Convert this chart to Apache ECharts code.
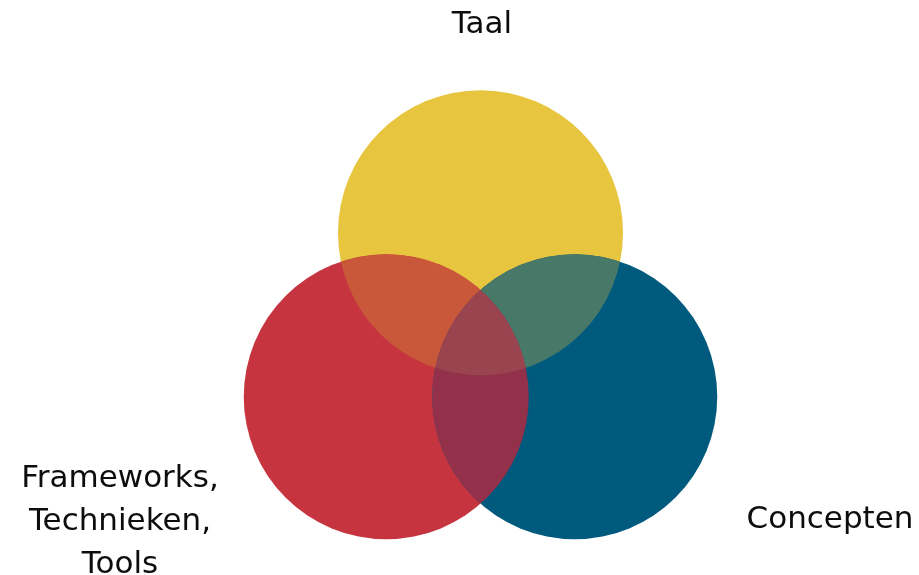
<!DOCTYPE html>
<html>
<head>
<meta charset="utf-8" />
<title>Venn</title>
<script src="https://cdn.jsdelivr.net/npm/echarts@6/dist/echarts.min.js"></script>
<style>
  body { margin: 0; background: #fff; }
  #main { width: 919px; height: 575px; }
</style>
</head>
<body>
<div id="main"></div>
<script>
// sets: yellow (top), red (left), blue (right)
const setNames = ['Taal', 'Frameworks,\nTechnieken,\nTools', 'Concepten'];
const setX = [0, -0.5, 0.5];
const setY = [0.87, 0, 0];
const setR = [0.756, 0.756, 0.756];
const setColors = ['#e7c53f', '#c6343f', '#005a7d'];

// overlaps, by set index
const overlapSets = [[0, 1], [0, 2], [1, 2], [0, 1, 2]];
const overlapColors = ['#c9573a', '#487868', '#93304a', '#9a4450'];

var myChart = echarts.init(document.getElementById('main'));

function circleOf(api, i) {
  const c = api.coord([setX[i], setY[i]]);
  const r = api.size([setR[i], 0])[0];
  return { cx: c[0], cy: c[1], r: r };
}

const setData = setX.map(function (x, i) { return [x, setY[i], setR[i]]; });
const overlapData = overlapSets.map(function (s) {
  let sx = 0, sy = 0;
  s.forEach(function (i) { sx += setX[i]; sy += setY[i]; });
  return [sx / s.length, sy / s.length];
});

const labelFont = '31px "DejaVu Sans"';

var option = {
  animation: false,
  grid: { left: 292, right: 250, top: 114, bottom: 84 },
  xAxis: { type: 'value', min: -1, max: 1, show: false },
  yAxis: { type: 'value', min: -0.5, max: 1.5, show: false },
  series: [
    {
      type: 'custom',
      clip: false,
      data: setData,
      renderItem: function (params, api) {
        const i = params.dataIndex;
        return {
          type: 'circle',
          shape: circleOf(api, i),
          style: { fill: setColors[i] }
        };
      }
    },
    {
      // overlap regions: first circle clipped by the others
      type: 'custom',
      clip: false,
      data: overlapData,
      renderItem: function (params, api) {
        const s = overlapSets[params.dataIndex];
        const fill = overlapColors[params.dataIndex];
        let el = {
          type: 'circle',
          shape: circleOf(api, s[0]),
          style: { fill: fill },
          clipPath: { type: 'circle', shape: circleOf(api, s[1]) }
        };
        if (s.length > 2) {
          el = {
            type: 'group',
            clipPath: { type: 'circle', shape: circleOf(api, s[2]) },
            children: [el]
          };
        }
        return el;
      }
    }
  ],
  graphic: [
    {
      type: 'text', x: 482, y: 25,
      style: { text: setNames[0], font: labelFont, fill: '#0d0d0d',
        textAlign: 'center', textVerticalAlign: 'middle' }
    },
    {
      type: 'text', x: 120, y: 522,
      style: { text: setNames[1], font: labelFont, fill: '#0d0d0d', lineHeight: 43,
        textAlign: 'center', textVerticalAlign: 'middle' }
    },
    {
      type: 'text', x: 830, y: 520,
      style: { text: setNames[2], font: labelFont, fill: '#0d0d0d',
        textAlign: 'center', textVerticalAlign: 'middle' }
    }
  ]
};

myChart.setOption(option);
</script>
</body>
</html>
